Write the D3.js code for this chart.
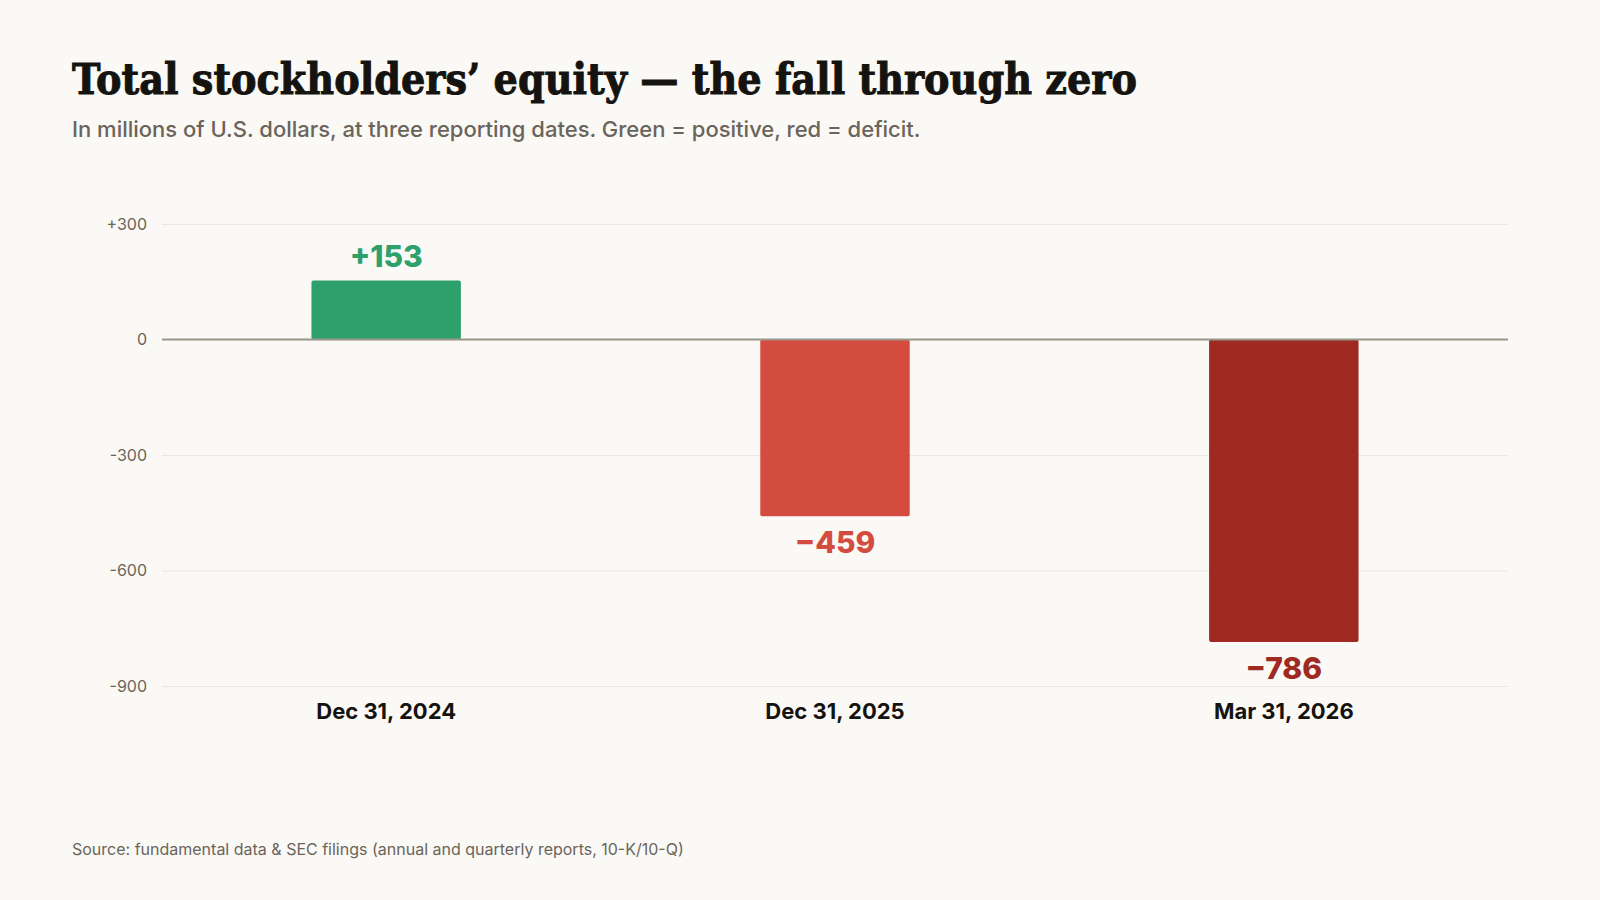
<!DOCTYPE html>
<html>
<head>
<meta charset="utf-8">
<script src="https://cdn.jsdelivr.net/npm/d3@7"></script>
<style>
  html, body { margin: 0; padding: 0; background: #faf9f6; }
  svg { display: block; }
</style>
</head>
<body>
<svg id="chart" width="1600" height="900"></svg>
<script>
// reporting dates and equity values (millions USD)
var dates = ["Dec 31, 2024", "Dec 31, 2025", "Mar 31, 2026"];
var equity = [153, -459, -786];
var valueLabels = ["+153", "\u2212459", "\u2212786"];
var barColors = ["#2ea06c", "#d44c40", "#9e2a22"];
var yTicks = [300, 0, -300, -600, -900];
var yTickLabels = ["+300", "0", "-300", "-600", "-900"];

chart();

function chart() {
    var svg = d3.select("#chart"),
        margin = {top: 224, left: 162, bottom: 214, right: 92},
        width = +svg.attr("width"),
        height = +svg.attr("height");

    var data = dates.map((d, i) => ({date: d, value: equity[i], label: valueLabels[i], color: barColors[i]}));

    svg.append("rect").attr("width", width).attr("height", height).attr("fill", "#faf9f6");

    // title + subtitle
    svg.append("text")
        .attr("x", 72).attr("y", 94)
        .attr("font-family", "'DejaVu Serif', serif")
        .attr("font-weight", 700)
        .attr("font-size", 42)
        .attr("fill", "#15130f")
        .attr("stroke", "#15130f")
        .attr("stroke-width", 1)
        .attr("textLength", 1065)
        .attr("lengthAdjust", "spacingAndGlyphs")
        .text("Total stockholders\u2019 equity \u2014 the fall through zero");

    svg.append("text")
        .attr("x", 72).attr("y", 137)
        .attr("font-family", "Inter, sans-serif")
        .attr("font-weight", 500)
        .attr("font-size", 22)
        .attr("fill", "#6b645a")
        .text("In millions of U.S. dollars, at three reporting dates. Green = positive, red = deficit.");

    var x = d3.scaleBand()
        .domain(dates)
        .range([margin.left, width - margin.right])
        .paddingInner(0.667)
        .paddingOuter(0.333);

    var y = d3.scaleLinear()
        .domain([-900, 300])
        .range([height - margin.bottom, margin.top]);

    // gridlines
    var yAxis = svg.append("g")
        .attr("transform", `translate(${margin.left},0)`)
        .call(d3.axisLeft(y).tickValues(yTicks)
            .tickSize(-(width - margin.right - margin.left))
            .tickFormat((d, i) => yTickLabels[i]));
    yAxis.select(".domain").remove();
    yAxis.selectAll(".tick line").attr("stroke", "#ebe8e0").attr("stroke-width", 1);
    yAxis.selectAll(".tick text")
        .attr("x", -15)
        .attr("font-family", "Inter, sans-serif")
        .attr("font-size", 16)
        .attr("fill", "#6b645a");

    // bars
    svg.selectAll("rect.bar")
        .data(data)
        .enter().append("rect")
        .attr("class", "bar")
        .attr("x", d => x(d.date))
        .attr("width", x.bandwidth())
        .attr("y", d => y(Math.max(0, d.value)))
        .attr("height", d => Math.abs(y(d.value) - y(0)))
        .attr("rx", 2)
        .attr("fill", d => d.color);

    // zero line
    svg.append("line")
        .attr("x1", margin.left).attr("x2", width - margin.right)
        .attr("y1", y(0)).attr("y2", y(0))
        .attr("stroke", "#9a968c").attr("stroke-width", 2);

    // value labels
    svg.selectAll("text.val")
        .data(data)
        .enter().append("text")
        .attr("class", "val")
        .attr("x", d => x(d.date) + x.bandwidth() / 2)
        .attr("y", d => d.value >= 0 ? y(d.value) - 14 : y(d.value) + 37)
        .attr("text-anchor", "middle")
        .attr("font-family", "Inter, sans-serif")
        .attr("font-weight", 800)
        .attr("font-size", 30)
        .attr("fill", d => d.color)
        .text(d => d.label);

    // x labels
    svg.selectAll("text.xlab")
        .data(data)
        .enter().append("text")
        .attr("class", "xlab")
        .attr("x", d => x(d.date) + x.bandwidth() / 2)
        .attr("y", 719)
        .attr("text-anchor", "middle")
        .attr("font-family", "Inter, sans-serif")
        .attr("font-weight", 700)
        .attr("font-size", 22)
        .attr("fill", "#15130f")
        .text(d => d.date);

    // source
    svg.append("text")
        .attr("x", 72).attr("y", 855)
        .attr("font-family", "Inter, sans-serif")
        .attr("font-size", 16)
        .attr("fill", "#6b645a")
        .text("Source: fundamental data & SEC filings (annual and quarterly reports, 10-K/10-Q)");
}
</script>
</body>
</html>
